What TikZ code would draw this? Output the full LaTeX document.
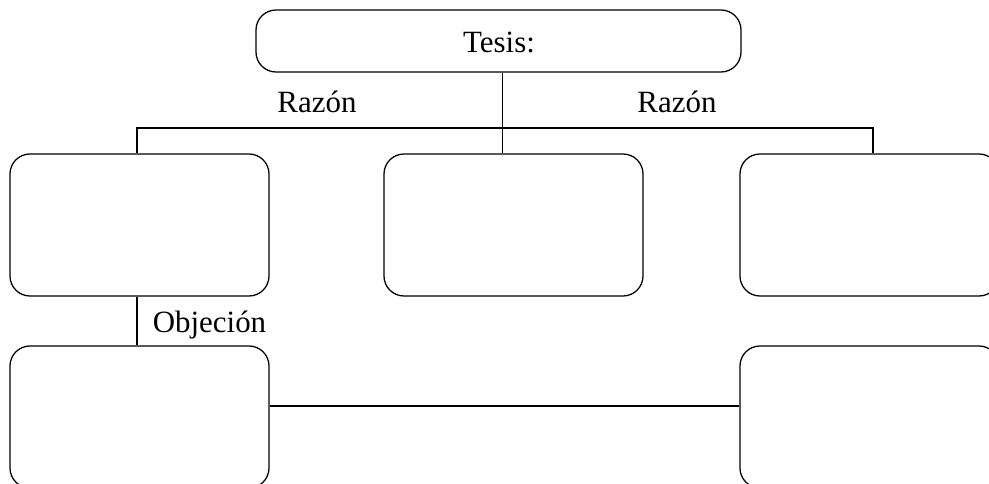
\documentclass[tikz,border=0pt]{standalone}
\usepackage{fontspec}
\setmainfont{Liberation Serif}
\tikzset{
  card/.style={draw,line width=0.9pt,rounded corners=0.5cm,minimum width=6.475cm,minimum height=3.55cm},
  lbl/.style={anchor=base,inner sep=0pt,font=\fontsize{22}{26}\selectfont}
}
\begin{document}
\begin{tikzpicture}[line width=0.9pt]
            \useasboundingbox(0,0)rectangle(24.725,-12.1);
            \node[draw,rounded corners=0.5cm,minimum width=12.125cm,minimum height=1.55cm](1)at(12.4625,-1.025){};
            \node[card](2)at(3.4875,-5.625){};
            \node[card](3)at(12.8375,-5.625){};
            \node[card](4)at(21.7375,-5.625){};
            \node[card](5)at(3.4875,-10.425){};
            \node[card](6)at(21.7375,-10.425){};
            \node[lbl](7)at(12.475,-1.325){Tesis:};
            \node[lbl](8)at(7.925,-2.825){Razón};
            \node[lbl](9)at(16.925,-2.825){Razón};
            \node[lbl](10)at(5.2375,-8.325){Objeción};
            \coordinate(a)at(3.425,-3.2);
            \coordinate(b)at(12.5625,-3.2);
            \coordinate(c)at(21.825,-3.2);
            \coordinate(d)at(0,-10.15);
            \draw(b|-1.south)--(b|-3.north);
            \draw(a|-2.north)--(a)--(c)--(c|-4.north);
            \draw(a|-2.south)--(a|-5.north);
            \draw(5.east|-d)--(6.west|-d);
        \end{tikzpicture}
\end{document}
